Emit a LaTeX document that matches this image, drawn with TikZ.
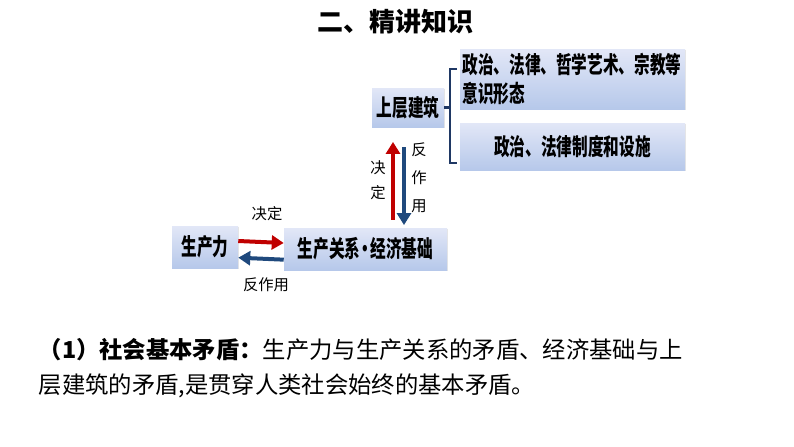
\documentclass[tikz,border=0pt]{standalone}
\usepackage{fontspec}
\setmainfont{Noto Sans CJK SC}
\newfontfamily\boxfont{Noto Sans CJK SC}[FakeStretch=0.67]
\usetikzlibrary{arrows.meta,shadows}
\definecolor{boxtop}{RGB}{226,231,247}
\definecolor{boxbot}{RGB}{182,200,234}
\definecolor{redarr}{RGB}{192,0,0}
\definecolor{bluearr}{RGB}{31,73,125}
\definecolor{bracecol}{RGB}{31,56,100}

\begin{document}
\begin{tikzpicture}[x=0.75pt,y=-0.75pt,
    box/.style={top color=boxtop,bottom color=boxbot,inner sep=0pt,
        font=\boxfont\bfseries\fontsize{17.5}{21.5}\selectfont,
        drop shadow={opacity=0.2,shadow xshift=1pt,shadow yshift=-1pt}},
    redup/.style={redarr,line width=3pt,-{Triangle[length=9pt,width=10.5pt]}},
    bluedown/.style={bluearr,line width=3pt,-{Triangle[length=9pt,width=10.5pt]}},
    lbl/.style={font=\fontsize{11.5}{21}\selectfont,align=center}]
    \useasboundingbox (0,0) rectangle (794,447);
    \node[font=\fontsize{19.5}{22}\selectfont\bfseries] (title) at (395,22) {二、精讲知识};

    \node[box,minimum width=49.5pt,minimum height=31.5pt] (scl) at (205,247) {生产力};
    \node[box,minimum width=122.25pt,minimum height=31.5pt] (jjjc) at (365.5,249)
        {生产关系\kern-0.12em•\kern-0.12em经济基础};
    \node[box,minimum width=54pt,minimum height=29.25pt] (sjjz) at (408,107.5) {上层建筑};
    \node[box,minimum width=168.75pt,minimum height=45pt,text width=165pt,align=left] (yszt) at (572.5,79)
        {政治、法律、哲学艺术、宗教等\\意识形态};
    \node[box,minimum width=168.75pt,minimum height=35.25pt] (zdss) at (572.5,146.5) {政治、法律制度和设施};

    % brace
    \draw[bracecol,line width=2.2pt] (457,69)--(450,69)--(450,163)--(457,163);
    \draw[bracecol,line width=2.2pt] (sjjz.east)--++(6,0);

    % horizontal arrows
    \draw[redup] ([yshift=4.5pt]scl.east)--([yshift=4.5pt]jjjc.west -| jjjc.west);
    \draw[bluedown] ([yshift=-8pt]jjjc.west)--([yshift=-8pt]scl.east);
    \node[lbl] (jd1) at (267,214) {决定};
    \node[lbl] (fzy1) at (266,285) {反作用};

    % vertical arrows
    \coordinate (rx) at (393,0);
    \coordinate (bx) at (404,0);
    \draw[redup,shorten <=6pt,shorten >=11pt] (jjjc.north -| rx)--(sjjz.south -| rx);
    \draw[bluedown,shorten <=15pt,shorten >=2pt] (sjjz.south -| bx)--(jjjc.north -| bx);
    \node[lbl,font=\fontsize{11.5}{19}\selectfont] (jd2) at (378,180) {决\\定};
    \node[lbl] (fzy2) at (419,178) {反\\作\\用};

    % text
    \node[anchor=west,font=\fontsize{17.5}{20}\selectfont] (line1) at (34,350)
        {{\bfseries （1）社会基本矛盾：}生产力与生产关系的矛盾、经济基础与上};
    \node[anchor=west,font=\fontsize{17.5}{20}\selectfont] (line2) at (34,386)
        {层建筑的矛盾,是贯穿人类社会始终的基本矛盾。};
\end{tikzpicture}
\end{document}
